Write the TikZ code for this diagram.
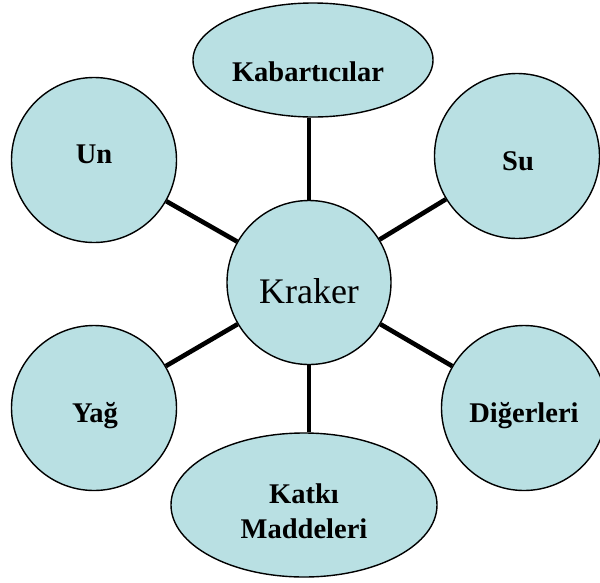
\documentclass[tikz,border=0pt]{standalone}
\usepackage{fontspec}
\setmainfont{Liberation Serif}
\usetikzlibrary{shapes.geometric}
\definecolor{bubblefill}{RGB}{185,224,227}
\begin{document}
\begin{tikzpicture}[x=1pt,y=-1pt,
  bubble/.style={circle, draw=black, line width=1.4pt, fill=bubblefill,
                 minimum size=#1, inner sep=0pt},
  bubble/.default=165pt,
  oval/.style={ellipse, draw=black, line width=1.4pt, fill=bubblefill, inner sep=0pt},
  lbl/.style={font=\bfseries\fontsize{28.5}{35}\selectfont, align=center},
  spoke/.style={line width=4.6pt}]
  \useasboundingbox (0,0) rectangle (600,582);
  \clip (0,0) rectangle (600,582);

  % outer topics
  \node[bubble] (un)  at (94,160) {};
  \node[bubble] (su)  at (517,156) {};
  \node[bubble] (yag) at (94,408) {};
  \node[bubble] (dig) at (524,408) {};
  \node[oval, minimum width=240pt, minimum height=114pt] (kab) at (313,60) {};
  \node[oval, minimum width=266pt, minimum height=144pt] (katki) at (304,505) {};

  % central topic
  \node[bubble=164pt] (kraker) at (309,282.5) {};

  % spokes from the centre to each topic
  \draw[spoke] (kraker) -- (un);
  \draw[spoke] (kraker) -- (su);
  \draw[spoke] (kraker) -- (yag);
  \draw[spoke] (kraker) -- (dig);
  \draw[spoke] (kraker.north) -- (kraker.north |- kab.south);
  \draw[spoke] (kraker.south) -- (kraker.south |- katki.north);

  % labels
  \node[font=\fontsize{36}{40}\selectfont, anchor=base] (kraker-t) at (309,303) {Kraker};
  \node[lbl, anchor=base] (un-t)  at (94,163)  {Un};
  \node[lbl, anchor=base] (su-t)  at (518,170) {Su};
  \node[lbl, anchor=base] (yag-t) at (95,422)  {Yağ};
  \node[lbl, anchor=base] (dig-t) at (524,422) {Diğerleri};
  \node[lbl, anchor=base] (kab-t) at (308,81)  {Kabartıcılar};
  \node[lbl] (katki-t) at (304,511) {Katkı\\Maddeleri};
\end{tikzpicture}
\end{document}
